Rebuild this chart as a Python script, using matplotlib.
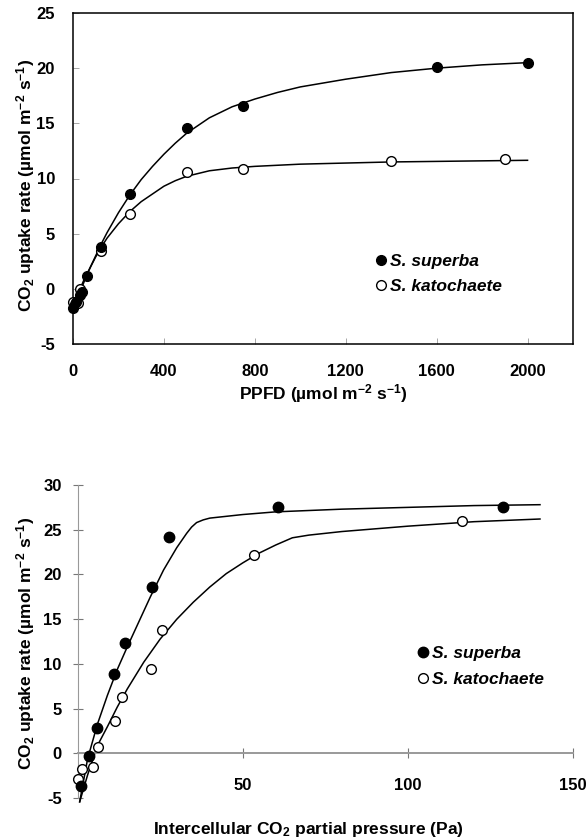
import matplotlib
matplotlib.use('Agg')
import matplotlib.pyplot as plt

plt.rcParams['font.family'] = ['Liberation Sans', 'DejaVu Sans']
plt.rcParams['font.weight'] = 'bold'
plt.rcParams['axes.unicode_minus'] = False
plt.rcParams['mathtext.fontset'] = 'custom'
plt.rcParams['mathtext.rm'] = 'Liberation Sans:bold'
plt.rcParams['mathtext.it'] = 'Liberation Sans:italic:bold'
plt.rcParams['mathtext.bf'] = 'Liberation Sans:bold'
plt.rcParams['mathtext.default'] = 'rm'

# light response (PPFD) measurements
ppfd_sup = [0, 15, 30, 40, 60, 125, 250, 500, 750, 1600, 2000]
a_sup = [-1.75, -1.15, -0.6, -0.3, 1.2, 3.8, 8.6, 14.6, 16.6, 20.1, 20.5]
ppfd_kat = [0, 10, 20, 30, 125, 250, 500, 750, 1400, 1900]
a_kat = [-1.2, -1.4, -1.3, 0.0, 3.4, 6.8, 10.6, 10.9, 11.55, 11.75]

# fitted light response curves
fit_ppfd_sup = [0, 25, 50, 75, 100, 125, 150, 200, 250, 300, 350, 400, 450, 500,
                600, 700, 800, 900, 1000, 1200, 1400, 1600, 1800, 2000]
fit_a_sup = [-1.9, -0.6, 0.7, 1.9, 3.0, 4.1, 5.1, 6.9, 8.5, 9.9, 11.1, 12.2, 13.2, 14.1,
             15.5, 16.5, 17.2, 17.8, 18.3, 19.0, 19.6, 20.0, 20.3, 20.5]
fit_ppfd_kat = [0, 25, 50, 75, 100, 125, 150, 200, 250, 300, 350, 400, 450, 500,
                600, 700, 800, 1000, 1200, 1400, 1600, 1800, 2000]
fit_a_kat = [-1.5, -0.3, 0.9, 1.9, 2.9, 3.8, 4.6, 5.9, 7.0, 7.9, 8.6, 9.3, 9.8, 10.2,
             10.7, 10.95, 11.1, 11.3, 11.4, 11.5, 11.55, 11.6, 11.65]

# CO2 response (A/Ci) measurements
ci_sup = [0.9, 3.4, 5.9, 11.1, 14.4, 22.4, 27.7, 60.8, 128.9]
aci_sup = [-3.6, -0.3, 2.8, 8.85, 12.4, 18.6, 24.2, 27.5, 27.5]
ci_kat = [0.0, 1.3, 4.5, 6.2, 11.4, 13.4, 22.2, 25.5, 53.5, 116.4]
aci_kat = [-2.8, -1.75, -1.55, 0.75, 3.65, 6.35, 9.4, 13.8, 22.2, 26.0]

# fitted A/Ci curves
fit_ci_sup = [0.6, 3, 6, 9, 12, 15, 18, 22, 26, 30, 33, 34.5, 36, 38, 40,
              50, 60, 80, 100, 120, 140]
fit_aci_sup = [-5.4, -0.6, 3.3, 6.5, 9.4, 11.9, 14.3, 17.5, 20.5, 23.0, 24.6, 25.3, 25.8,
               26.1, 26.3, 26.7, 27.0, 27.3, 27.5, 27.7, 27.8]
fit_ci_kat = [0.6, 3, 6, 9, 12, 15, 20, 25, 30, 35, 40, 45, 50, 55, 60, 65,
              70, 80, 100, 120, 140]
fit_aci_kat = [-5.4, -2.4, 0.9, 3.0, 5.2, 7.2, 10.2, 12.8, 15.0, 16.9, 18.6, 20.1, 21.3,
               22.4, 23.3, 24.1, 24.4, 24.8, 25.4, 25.9, 26.2]

ylab = 'CO$_2$ uptake rate (µmol m$^{-2}$ s$^{-1}$)'
TICK_FS = 12
LABEL_FS = 12.5
LEG = dict(style='italic', weight='bold', size=12.5)
W, H = 587, 839

fig = plt.figure(figsize=(W / 100, H / 100), dpi=100)

# --- top panel: light response ---
ax1 = fig.add_axes([73 / W, (H - 344) / H, 500 / W, 331 / H])
ax1.plot(fit_ppfd_sup, fit_a_sup, color='black', lw=1.1)
ax1.plot(fit_ppfd_kat, fit_a_kat, color='black', lw=1.1)
ax1.plot(ppfd_kat, a_kat, 'o', mfc='white', mec='black', mew=1.0, ms=7,
         label='S. katochaete', clip_on=False, zorder=3)
ax1.plot(ppfd_sup, a_sup, 'o', mfc='black', mec='black', ms=7,
         label='S. superba', clip_on=False, zorder=4)
ax1.set_xlim(0, 2200)
ax1.set_ylim(-5, 25)
ax1.set_xticks(range(0, 2001, 400))
ax1.set_yticks(range(-5, 26, 5))
for s in ax1.spines.values():
    s.set_linewidth(1.1)
ax1.tick_params(axis='x', direction='in', length=4, width=0.6, color='#999999',
                labelsize=TICK_FS, pad=14.5)
ax1.tick_params(axis='y', direction='in', length=4, width=0.6, color='#999999',
                labelsize=TICK_FS, pad=13)
ax1.set_xlabel('PPFD (µmol m$^{-2}$ s$^{-1}$)', fontsize=LABEL_FS, fontweight='bold')
ax1.set_ylabel(ylab, fontsize=LABEL_FS, fontweight='bold')
ax1.xaxis.set_label_coords(0.5, -0.115)
ax1.yaxis.set_label_coords(-0.072, 0.48)
h, l = ax1.get_legend_handles_labels()
ax1.legend(h[::-1], l[::-1], loc='center left', bbox_to_anchor=(0.606, 0.212),
           frameon=False, borderpad=0, borderaxespad=0, handlelength=0.6,
           handletextpad=0.2, labelspacing=0.6, prop=LEG)

# --- bottom panel: CO2 response ---
ax2 = fig.add_axes([77.7 / W, (H - 803.6) / H, 495.3 / W, 318.6 / H])
ax2.plot(fit_ci_sup, fit_aci_sup, color='black', lw=1.1)
ax2.plot(fit_ci_kat, fit_aci_kat, color='black', lw=1.1)
ax2.plot(ci_kat, aci_kat, 'o', mfc='white', mec='black', mew=1.0, ms=7,
         label='S. katochaete', clip_on=False, zorder=3)
ax2.plot(ci_sup, aci_sup, 'o', mfc='black', mec='black', ms=7.5,
         label='S. superba', clip_on=False, zorder=4)
ax2.set_xlim(0, 150)
ax2.set_ylim(-5.6, 30)
ax2.set_xticks([50, 100, 150])
ax2.set_yticks(range(-5, 31, 5))
ax2.spines['top'].set_visible(False)
ax2.spines['right'].set_visible(False)
ax2.spines['bottom'].set_position(('data', 0))
ax2.spines['bottom'].set_bounds(0, 150)
ax2.spines['bottom'].set_color('#999999')
ax2.spines['bottom'].set_linewidth(1.4)
ax2.spines['left'].set_bounds(-5, 30)
ax2.spines['left'].set_color('#999999')
ax2.spines['left'].set_linewidth(0.8)
ax2.tick_params(axis='x', direction='inout', length=7, width=0.8, color='#777777',
                labelsize=TICK_FS, pad=14.5)
ax2.tick_params(axis='y', direction='inout', length=7, width=0.8, color='#777777',
                labelsize=TICK_FS, pad=8)
ax2.set_xlabel('Intercellular CO$_2$ partial pressure (Pa)', fontsize=LABEL_FS,
               fontweight='bold')
ax2.set_ylabel(ylab, fontsize=LABEL_FS, fontweight='bold')
ax2.xaxis.set_label_coords(0.465, -0.051)
ax2.yaxis.set_label_coords(-0.082, 0.502)
h, l = ax2.get_legend_handles_labels()
ax2.legend(h[::-1], l[::-1], loc='center left', bbox_to_anchor=(0.687, 0.43),
           frameon=False, borderpad=0, borderaxespad=0, handlelength=0.6,
           handletextpad=0.2, labelspacing=0.65, prop=LEG)

fig.savefig('out.png', dpi=100)
